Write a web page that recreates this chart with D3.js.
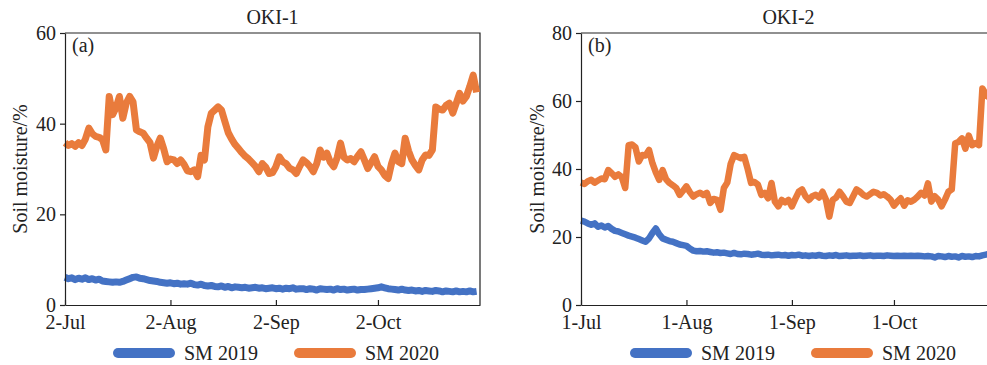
<!DOCTYPE html>
<html>
<head>
<meta charset="utf-8">
<script src="https://cdn.jsdelivr.net/npm/d3@7"></script>
<style>
  body { margin: 0; background: #fff; }
  text { font-family: "Liberation Serif", "Times New Roman", serif; fill: #222; }
</style>
</head>
<body>
<script>
const svgWidth = 987
const svgHeight = 365

const colorBlue = "#4472C4"
const colorOrange = "#E97B3C"

const seriesNames = ["SM 2019", "SM 2020"]

// OKI-1, daily values from 2 Jul
const oki1Start = "2020-07-02"
const oki1End = "2020-11-01"
const oki1Ticks = ["2020-07-02", "2020-08-02", "2020-09-02", "2020-10-02"]
const oki1YTicks = [0, 20, 40, 60]
const oki1Sm2019 = [
  6.1, 5.8, 6.0, 5.6, 5.9, 5.7, 6.0, 5.6, 5.8, 5.5, 5.7, 5.3, 5.2, 5.1, 5.0, 5.1,
  5.0, 5.2, 5.5, 5.8, 6.1, 6.2, 5.9, 5.8, 5.6, 5.4, 5.3, 5.2, 5.0, 4.9, 4.8, 4.9,
  4.7, 4.8, 4.6, 4.7, 4.6, 4.8, 4.5, 4.4, 4.6, 4.3, 4.2, 4.3, 4.1, 4.0, 4.2, 3.9,
  4.1, 3.8, 4.0, 3.9, 3.8, 3.9, 3.7, 3.8, 3.9, 3.7, 3.8, 3.6, 3.7, 3.8, 3.6, 3.7,
  3.5, 3.7, 3.6, 3.8, 3.5, 3.6, 3.6, 3.4, 3.6, 3.5, 3.3, 3.6, 3.5, 3.4, 3.5, 3.3,
  3.6, 3.4, 3.5, 3.3, 3.4, 3.5, 3.3, 3.4, 3.4, 3.5, 3.6, 3.7, 3.8, 4.0, 3.8, 3.6,
  3.5, 3.4, 3.3, 3.5, 3.3, 3.2, 3.3, 3.1, 3.2, 3.0, 3.2, 3.1, 3.0, 3.2, 3.1, 2.9,
  3.1, 3.0, 2.9, 3.1, 2.9, 3.0, 2.9, 3.1, 2.9, 3.0
]
const oki1Sm2020 = [
  35.8, 35.2, 35.6, 35.0, 35.8, 35.2, 36.6, 39.0, 37.8, 37.2, 37.0, 36.5, 34.2, 46.0, 42.0, 43.5,
  46.0, 41.2, 44.5, 46.0, 44.8, 38.6, 38.2, 37.9, 36.8, 35.8, 32.4, 35.0, 36.8, 34.5, 31.6, 32.2,
  32.0, 31.2, 32.0, 31.0, 29.6, 29.4, 29.8, 28.3, 33.0, 32.0, 39.3, 42.3, 43.0, 43.7, 43.0, 40.5,
  38.0, 36.6, 35.4, 34.5, 33.6, 32.8, 32.2, 31.4, 30.6, 29.4, 31.2, 30.4, 29.0, 29.2, 30.5, 32.7,
  31.6, 31.2, 30.2, 29.8, 29.0, 30.6, 32.0, 31.4, 30.6, 29.4, 31.2, 34.2, 32.6, 33.5, 31.5, 30.5,
  32.5, 35.7, 32.6, 32.0, 32.3, 31.6, 32.8, 33.8, 32.0, 30.1, 31.4, 32.7, 30.6, 29.8, 28.6, 27.9,
  31.2, 33.5, 31.6, 31.2, 36.8, 34.0, 32.0, 30.8, 29.8, 32.0, 33.1, 33.0, 34.2, 43.7, 43.2, 43.0,
  44.0, 44.5, 42.3, 44.5, 46.7, 45.0, 46.0, 48.2, 50.7, 46.9
]

// OKI-2, daily values from 1 Jul
const oki2Start = "2020-07-01"
const oki2End = "2020-10-31"
const oki2Ticks = ["2020-07-01", "2020-08-01", "2020-09-01", "2020-10-01"]
const oki2YTicks = [0, 20, 40, 60, 80]
const oki2Sm2019 = [
  24.8, 24.5, 24.0, 23.6, 24.0, 23.0, 23.4, 22.8, 23.2, 22.4, 21.8, 21.6, 21.2, 20.8, 20.4, 20.1,
  19.8, 19.4, 19.0, 18.6, 19.6, 21.2, 22.5, 20.8, 19.6, 19.2, 18.8, 18.6, 18.2, 17.8, 17.6, 17.4,
  16.6, 16.0, 15.8, 15.9, 15.7, 15.8, 15.6, 15.4, 15.5, 15.3, 15.4, 15.2, 15.0, 15.3, 15.0, 14.9,
  15.1, 15.0, 14.8, 14.9, 15.1, 14.8, 14.7, 14.8, 14.6, 14.7, 14.8, 14.6, 14.7, 14.5, 14.7, 14.6,
  14.8, 14.5, 14.6, 14.4, 14.6, 14.5, 14.7, 14.5, 14.4, 14.6, 14.5, 14.7, 14.4, 14.5, 14.6, 14.4,
  14.5, 14.5, 14.6, 14.4, 14.5, 14.6, 14.4, 14.5, 14.5, 14.4, 14.6, 14.5, 14.4, 14.5, 14.4, 14.5,
  14.4, 14.5, 14.4, 14.5, 14.4, 14.3, 14.4, 14.3, 14.0, 14.4, 14.3, 14.1, 14.4, 14.2, 14.3, 14.0,
  14.4, 14.2, 14.3, 14.1, 14.4, 14.3, 14.6, 14.8, 15.0
]
const oki2Sm2020 = [
  36.0, 35.6, 36.4, 36.8, 36.0, 36.6, 37.2, 37.0, 39.7, 38.8, 37.7, 38.4, 37.6, 34.4, 47.0, 47.2,
  46.4, 42.2, 44.1, 44.0, 45.6, 41.7, 39.0, 36.8, 39.7, 37.0, 35.9, 35.2, 34.4, 32.4, 33.6, 34.9,
  33.2, 31.9, 32.6, 33.0, 32.4, 33.0, 30.0, 31.2, 30.9, 28.0, 34.4, 36.0, 41.5, 44.1, 43.6, 43.2,
  43.6, 40.0, 35.9, 36.2, 35.4, 32.4, 33.0, 31.4, 35.9, 30.4, 29.0, 30.9, 30.2, 30.9, 29.0, 31.2,
  33.3, 34.0, 32.0, 30.9, 32.0, 32.4, 31.6, 33.3, 31.0, 26.0, 30.9, 31.6, 33.3, 32.0, 30.4, 30.0,
  32.0, 34.0, 33.3, 32.4, 31.9, 32.6, 33.3, 33.0, 32.2, 32.6, 31.9, 31.0, 29.2, 30.4, 31.4, 29.2,
  30.8, 30.4, 31.0, 31.9, 33.0, 32.2, 35.8, 30.4, 32.0, 31.0, 29.0, 31.0, 33.3, 34.0, 47.5, 48.0,
  49.0, 46.0, 49.8, 47.0, 47.6, 47.0, 63.7, 62.0, 61.0
]

const parseDate = d3.timeParse("%Y-%m-%d")
const formatDate = d3.timeFormat("%-d-%b")

const svg = d3.select("body").append("svg")
    .attr("width", svgWidth)
    .attr("height", svgHeight)

function drawPanel(p) {
    const chartWidth = p.right - p.left
    const chartHeight = p.bottom - p.top
    const start = parseDate(p.start)

    const g = svg.append("g")
        .attr("transform", `translate(${p.left}, ${p.top})`)

    const x = d3.scaleTime()
        .domain([start, parseDate(p.end)])
        .range([0, chartWidth])

    const y = d3.scaleLinear()
        .domain([0, d3.max(p.yTicks)])
        .range([chartHeight, 0])

    const toPoints = vals => vals.map((v, i) => ({ date: d3.timeDay.offset(start, i), value: v }))

    const line = d3.line()
        .x(d => x(d.date))
        .y(d => y(d.value))

    // frame top and right
    g.append("path")
        .attr("d", `M0,0H${chartWidth}V${chartHeight}`)
        .attr("fill", "none")
        .attr("stroke", "#222")
        .attr("stroke-width", 1.2)

    g.append("path")
        .attr("d", line(toPoints(p.sm2019)))
        .attr("fill", "none")
        .attr("stroke", colorBlue)
        .attr("stroke-width", p.lineWidth)
        .attr("stroke-linejoin", "round")

    g.append("path")
        .attr("d", line(toPoints(p.sm2020)))
        .attr("fill", "none")
        .attr("stroke", colorOrange)
        .attr("stroke-width", p.lineWidth)
        .attr("stroke-linejoin", "round")

    const xAxis = d3.axisBottom(x)
        .tickValues(p.xTicks.map(parseDate))
        .tickFormat(formatDate)
        .tickSizeInner(-5)
        .tickSizeOuter(0)
        .tickPadding(10)

    const yAxis = d3.axisLeft(y)
        .tickValues(p.yTicks)
        .tickSizeInner(5)
        .tickSizeOuter(0)
        .tickPadding(4)

    const xG = g.append("g")
        .attr("transform", `translate(0, ${chartHeight})`)
        .call(xAxis)
    const yG = g.append("g").call(yAxis)

    for (const a of [xG, yG]) {
        a.selectAll("path, line").attr("stroke", "#222").attr("stroke-width", 1.2)
        a.selectAll("text")
            .attr("font-size", 20)
            .attr("font-family", "Liberation Serif, Times New Roman, serif")
            .attr("fill", "#222")
    }

    g.append("text")
        .attr("x", chartWidth / 2)
        .attr("y", -9)
        .attr("text-anchor", "middle")
        .attr("font-size", 20)
        .text(p.title)

    g.append("text")
        .attr("x", 7)
        .attr("y", 19)
        .attr("font-size", 20)
        .text(p.tag)

    svg.append("text")
        .attr("transform", `translate(${p.yLabelX}, ${p.top + chartHeight / 2}) rotate(-90)`)
        .attr("text-anchor", "middle")
        .attr("font-size", 20)
        .text("Soil moisture/%")

    // legend
    const colors = [colorBlue, colorOrange]
    p.legendX.forEach((lx, i) => {
        svg.append("line")
            .attr("x1", lx + 5)
            .attr("x2", lx + 57)
            .attr("y1", 353)
            .attr("y2", 353)
            .attr("stroke", colors[i])
            .attr("stroke-width", 10)
            .attr("stroke-linecap", "round")
        svg.append("text")
            .attr("x", lx + 71)
            .attr("y", 360)
            .attr("font-size", 20)
            .text(seriesNames[i])
    })
}

drawPanel({
    title: "OKI-1", tag: "(a)",
    left: 65, right: 480, top: 33, bottom: 305,
    start: oki1Start, end: oki1End, xTicks: oki1Ticks, yTicks: oki1YTicks,
    sm2019: oki1Sm2019, sm2020: oki1Sm2020, lineWidth: 7,
    yLabelX: 27, legendX: [113, 294]
})

drawPanel({
    title: "OKI-2", tag: "(b)",
    left: 581, right: 996, top: 33, bottom: 305,
    start: oki2Start, end: oki2End, xTicks: oki2Ticks, yTicks: oki2YTicks,
    sm2019: oki2Sm2019, sm2020: oki2Sm2020, lineWidth: 6.5,
    yLabelX: 544, legendX: [630, 811]
})
</script>
</body>
</html>
